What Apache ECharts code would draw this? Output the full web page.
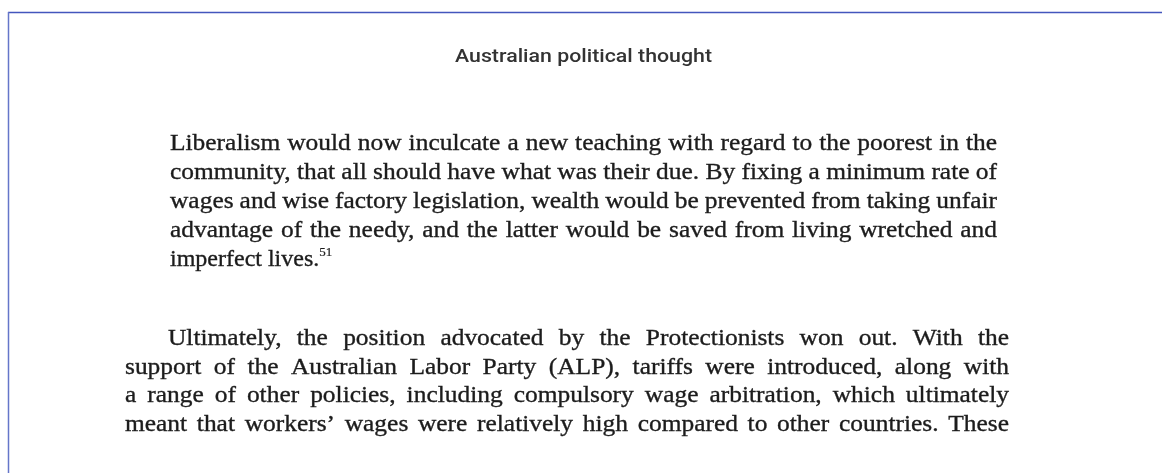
<!DOCTYPE html>
<html>
<head>
<meta charset="utf-8">
<title>Australian political thought</title>
<style>
    html, body { margin: 0; padding: 0; background: #ffffff; }
    #page { width: 1162px; height: 473px; }
</style>
<script src="https://cdn.jsdelivr.net/npm/echarts@6/dist/echarts.min.js"></script>
</head>
<body>
<div id="page"></div>
<script>
// page texts
var headerText = 'Australian political thought';
var quoteLines = [
    'Liberalism would now inculcate a new teaching with regard to the poorest in the',
    'community, that all should have what was their due. By fixing a minimum rate of',
    'wages and wise factory legislation, wealth would be prevented from taking unfair',
    'advantage of the needy, and the latter would be saved from living wretched and',
    'imperfect lives.'
];
var quoteNote = '51';
var bodyLines = [
    'Ultimately, the position advocated by the Protectionists won out. With the',
    'support of the Australian Labor Party (ALP), tariffs were introduced, along with',
    'a range of other policies, including compulsory wage arbitration, which ultimately',
    'meant that workers\u2019 wages were relatively high compared to other countries. These'
];

var serif = '"Liberation Serif", "Times New Roman", serif';
var sans = 'Roboto, "Noto Sans", sans-serif';
var inkColor = '#1c1c1c';

var ctx = document.createElement('canvas').getContext('2d');
function fontStr(size, family, weight) { return (weight || 'normal') + ' ' + size + 'px ' + family; }
function measure(text, size, family, weight) {
    ctx.font = fontStr(size, family, weight);
    return ctx.measureText(text).width;
}
// distance between the "middle" line and the alphabetic baseline
function baseOff(size, family, weight) {
    ctx.font = fontStr(size, family, weight);
    ctx.textBaseline = 'middle';
    var d = ctx.measureText('x').actualBoundingBoxDescent;
    ctx.textBaseline = 'alphabetic';
    return d;
}

var elements = [];

function addText(text, x, base, size, family, fill, sx, weight, stroke) {
    elements.push({
        type: 'text',
        silent: true,
        x: x,
        y: base - baseOff(size, family, weight),
        scaleX: sx,
        style: {
            text: text,
            fontSize: size,
            fontFamily: family,
            fontWeight: weight || 'normal',
            fill: fill,
            stroke: stroke ? fill : null,
            lineWidth: stroke || 0,
            align: 'left',
            verticalAlign: 'middle'
        }
    });
}

// one line of text, word by word, optionally justified between left and right
function setLine(text, left, right, base, size, sx, justify) {
    var words = text.split(' ');
    var raw = words.map(function (w) { return measure(w, size, serif); });
    var rawTotal = raw.reduce(function (a, b) { return a + b; }, 0);
    var gap = measure(' ', size, serif) * sx;
    if (justify && words.length > 1) {
        gap = (right - left - rawTotal * sx) / (words.length - 1);
        if (gap < 6) {
            gap = 6;
            sx = (right - left - gap * (words.length - 1)) / rawTotal;
        }
    }
    var x = left;
    words.forEach(function (w, i) {
        addText(w, x, base, size, serif, inkColor, sx, 'normal', 0.35);
        x += raw[i] * sx + gap;
    });
    return x - gap;
}

// header
var headSize = 18;
var headSx = 257 / measure(headerText, headSize, sans, 500);
var headW = measure(headerText, headSize, sans, 500) * headSx;
addText(headerText, 583.5 - headW / 2, 62, headSize, sans, '#333333', headSx, 500);

// block quote
var bodySize = 24;
var bodySx = 1.06;
var quoteBase = [150, 179, 208, 237, 266];
var quoteEnd = 0;
quoteLines.forEach(function (line, i) {
    var last = i === quoteLines.length - 1;
    quoteEnd = setLine(line, 170, 997, quoteBase[i], bodySize, last ? 1.0 : bodySx, !last);
});
addText(quoteNote, quoteEnd, quoteBase[4] - 10, 13, serif, inkColor, 1.0, 'normal', 0.2);

// body paragraph
var bodyBase = [345, 373.5, 402, 430.5];
bodyLines.forEach(function (line, i) {
    setLine(line, i === 0 ? 168 : 125, 1009, bodyBase[i], bodySize, bodySx, true);
});

// frame
elements.push({
    type: 'line', silent: true,
    shape: { x1: 8, y1: 12.5, x2: 1162, y2: 12.5 },
    style: { stroke: '#4356bd', lineWidth: 1.5 }
});
elements.push({
    type: 'line', silent: true,
    shape: { x1: 8.5, y1: 12, x2: 8.5, y2: 473 },
    style: { stroke: '#6576c9', lineWidth: 1.5 }
});

var myChart = echarts.init(document.getElementById('page'), null, { renderer: 'canvas' });
var option = {
    backgroundColor: '#ffffff',
    animation: false,
    graphic: {
        elements: elements
    }
};
myChart.setOption(option);
</script>
</body>
</html>
